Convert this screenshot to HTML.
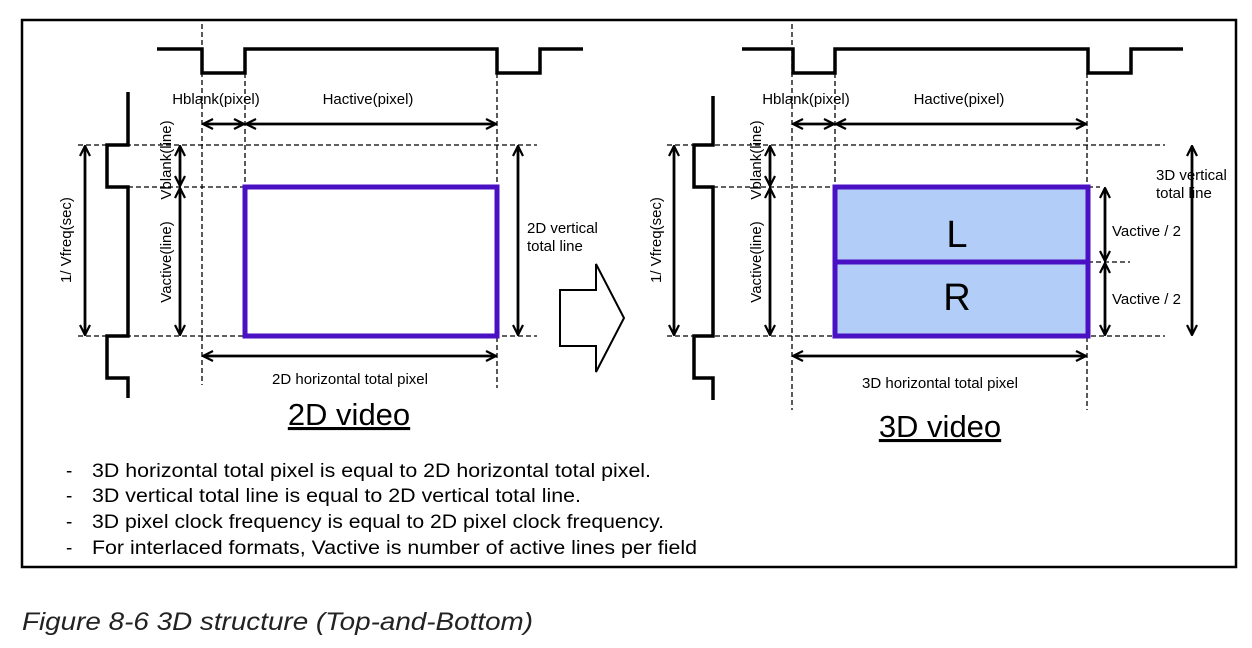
<!DOCTYPE html>
<html><head><meta charset="utf-8"><style>
html,body{margin:0;padding:0;background:#fff;}
svg{display:block;}
text{font-family:"Liberation Sans",sans-serif;}
</style></head><body>
<svg width="1252" height="648" viewBox="0 0 1252 648" xmlns="http://www.w3.org/2000/svg">
<defs>
<marker id="a" viewBox="0 0 12 12" refX="11" refY="6" markerWidth="12" markerHeight="12" markerUnits="userSpaceOnUse" orient="auto-start-reverse">
<path d="M1,1 L11,6 L1,11" fill="none" stroke="#000" stroke-width="2.2"/>
</marker>
</defs>
<rect x="22" y="20" width="1214" height="547" fill="none" stroke="#000" stroke-width="2.5"/>

<g id="left">
<g stroke="#000" stroke-width="1.3" stroke-dasharray="5,3" fill="none">
<line x1="202" y1="24" x2="202" y2="385"/>
<line x1="245" y1="73" x2="245" y2="187"/>
<line x1="497" y1="73" x2="497" y2="388"/>
<line x1="78" y1="145" x2="537" y2="145"/>
<line x1="128" y1="187" x2="245" y2="187"/>
<line x1="78" y1="336" x2="537" y2="336"/>
</g>
<path d="M157,49 H202 V73 H245 V49 H497 V73 H540 V49 H583" fill="none" stroke="#000" stroke-width="3.5"/>
<path d="M128,92 V145 H107 V187 H128 V336 H107 V378 H128 V398" fill="none" stroke="#000" stroke-width="3.5"/>
<g stroke="#000" stroke-width="2.8" marker-start="url(#a)" marker-end="url(#a)">
<line x1="85" y1="146" x2="85" y2="335"/>
<line x1="180" y1="146" x2="180" y2="186"/>
<line x1="180" y1="188" x2="180" y2="335"/>
<line x1="203" y1="124" x2="244" y2="124"/>
<line x1="246" y1="124" x2="496" y2="124"/>
<line x1="518" y1="146" x2="518" y2="335"/>
<line x1="203" y1="356" x2="496" y2="356"/>
</g>
<rect x="245" y="187" width="252" height="149" fill="none" stroke="#4a10c4" stroke-width="5"/>
<g font-size="15" fill="#000">
<text x="216" y="104" text-anchor="middle">Hblank(pixel)</text>
<text x="368" y="104" text-anchor="middle">Hactive(pixel)</text>
<text x="527" y="233">2D vertical</text>
<text x="527" y="251">total line</text>
<text x="350" y="384" text-anchor="middle">2D horizontal total pixel</text>
<text transform="translate(71,240) rotate(-90)" text-anchor="middle">1/ Vfreq(sec)</text>
<text transform="translate(171,160) rotate(-90)" text-anchor="middle">Vblank(line)</text>
<text transform="translate(171,262) rotate(-90)" text-anchor="middle">Vactive(line)</text>
</g>
<text x="349" y="425" font-size="31" text-anchor="middle" text-decoration="underline">2D video</text>
</g>

<path d="M560,290 H596 V264 L624,318 L596,372 V346 H560 Z" fill="#fff" stroke="#000" stroke-width="2"/>

<g id="right">
<g stroke="#000" stroke-width="1.3" stroke-dasharray="5,3" fill="none">
<line x1="792" y1="24" x2="792" y2="410"/>
<line x1="835" y1="73" x2="835" y2="187"/>
<line x1="1087" y1="73" x2="1087" y2="410"/>
<line x1="667" y1="145" x2="1165" y2="145"/>
<line x1="713" y1="187" x2="835" y2="187"/>
<line x1="1088" y1="187" x2="1100" y2="187"/>
<line x1="1088" y1="262" x2="1130" y2="262"/>
<line x1="667" y1="336" x2="1165" y2="336"/>
</g>
<path d="M742,49 H793 V73 H835 V49 H1088 V73 H1131 V49 H1183" fill="none" stroke="#000" stroke-width="3.5"/>
<path d="M713,96 V145 H694 V187 H713 V336 H694 V378 H713 V400" fill="none" stroke="#000" stroke-width="3.5"/>
<rect x="835" y="187" width="253" height="149" fill="#b3cdf9"/>
<g stroke="#4a10c4" stroke-width="5" fill="none">
<rect x="835" y="187" width="253" height="149"/>
<line x1="835" y1="262" x2="1088" y2="262"/>
</g>
<g stroke="#000" stroke-width="2.8" marker-start="url(#a)" marker-end="url(#a)">
<line x1="674" y1="146" x2="674" y2="335"/>
<line x1="770" y1="146" x2="770" y2="186"/>
<line x1="770" y1="188" x2="770" y2="335"/>
<line x1="793" y1="124" x2="834" y2="124"/>
<line x1="836" y1="124" x2="1086" y2="124"/>
<line x1="1105" y1="188" x2="1105" y2="261"/>
<line x1="1105" y1="263" x2="1105" y2="335"/>
<line x1="1192" y1="146" x2="1192" y2="335"/>
<line x1="793" y1="356" x2="1086" y2="356"/>
</g>
<g font-size="15" fill="#000">
<text x="806" y="104" text-anchor="middle">Hblank(pixel)</text>
<text x="959" y="104" text-anchor="middle">Hactive(pixel)</text>
<text x="1156" y="180">3D vertical</text>
<text x="1156" y="198">total line</text>
<text x="1112" y="236">Vactive / 2</text>
<text x="1112" y="304">Vactive / 2</text>
<text x="940" y="388" text-anchor="middle">3D horizontal total pixel</text>
<text transform="translate(661,240) rotate(-90)" text-anchor="middle">1/ Vfreq(sec)</text>
<text transform="translate(761,160) rotate(-90)" text-anchor="middle">Vblank(line)</text>
<text transform="translate(761,262) rotate(-90)" text-anchor="middle">Vactive(line)</text>
</g>
<text x="957" y="247" font-size="38" text-anchor="middle">L</text>
<text x="957" y="310" font-size="38" text-anchor="middle">R</text>
<text x="940" y="437" font-size="31" text-anchor="middle" text-decoration="underline">3D video</text>
</g>

<g font-size="19" fill="#000">
<text x="66" y="477">-</text><text x="92" y="477" textLength="559" lengthAdjust="spacingAndGlyphs">3D horizontal total pixel is equal to 2D horizontal total pixel.</text>
<text x="66" y="502">-</text><text x="92" y="502" textLength="489" lengthAdjust="spacingAndGlyphs">3D vertical total line is equal to 2D vertical total line.</text>
<text x="66" y="528">-</text><text x="92" y="528" textLength="572" lengthAdjust="spacingAndGlyphs">3D pixel clock frequency is equal to 2D pixel clock frequency.</text>
<text x="66" y="554">-</text><text x="92" y="554" textLength="605" lengthAdjust="spacingAndGlyphs">For interlaced formats, Vactive is number of active lines per field</text>
</g>
<text x="22" y="630" font-size="25" font-style="italic" fill="#222" textLength="511" lengthAdjust="spacingAndGlyphs">Figure 8-6 3D structure (Top-and-Bottom)</text>
</svg>
</body></html>
